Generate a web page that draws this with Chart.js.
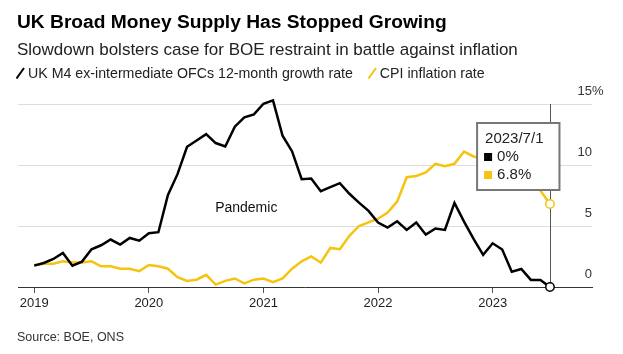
<!DOCTYPE html>
<html>
<head>
<meta charset="utf-8">
<script src="https://cdn.jsdelivr.net/npm/chart.js@4"></script>
<style>
  body { margin: 0; background: #fff; font-family: "Liberation Sans", Arial, sans-serif; }
  #wrap { position: relative; width: 623px; height: 354px; overflow: hidden; }
  #chart { position: absolute; left: 0; top: 0; }
  .title { position: absolute; left: 17px; top: 12px; font-size: 19.2px; line-height: 20px; font-weight: bold; color: #000; white-space: nowrap; }
  .subtitle { position: absolute; left: 17px; top: 41px; font-size: 17px; line-height: 17px; color: #222; white-space: nowrap; }
  .legend { position: absolute; left: 16px; top: 66px; font-size: 14.2px; line-height: 14px; color: #222; white-space: nowrap; }
  .legend svg { vertical-align: -1px; margin-right: 3px; }
  .legend .item2 { margin-left: 11px; }
  .source { position: absolute; left: 17px; top: 331px; font-size: 12.5px; line-height: 12px; color: #333; }
</style>
</head>
<body>
<div id="wrap">
  <canvas id="chart" width="623" height="354"></canvas>
  <div class="title">UK Broad Money Supply Has Stopped Growing</div>
  <div class="subtitle">Slowdown bolsters case for BOE restraint in battle against inflation</div>
  <div class="legend">
    <span><svg width="9" height="12"><line x1="0.5" y1="11.5" x2="8" y2="1" stroke="#000" stroke-width="2"/></svg>UK M4 ex-intermediate OFCs 12-month growth rate</span>
    <span class="item2"><svg width="9" height="12"><line x1="0.5" y1="11.5" x2="8" y2="1" stroke="#f6c30f" stroke-width="2"/></svg>CPI inflation rate</span>
  </div>
  <div class="source">Source: BOE, ONS</div>
</div>
<script>
// monthly, Jan 2019 .. Jul 2023
const firstYear = 2019;
const m4Growth = [
  1.75, 1.97, 2.3, 2.79, 1.75, 2.08, 3.09, 3.42, 3.89, 3.48, 4.02, 3.8,
  4.4, 4.49, 7.55, 9.25, 11.49, 12.01, 12.53, 11.8, 11.52, 13.14, 13.9, 14.15,
  15.02, 15.3, 12.4, 11.11, 8.84, 8.89, 7.85, 8.18, 8.51, 7.64, 6.92, 6.24,
  5.28, 4.87, 5.39, 4.68, 5.28, 4.29, 4.79, 4.68, 6.9, 5.36, 3.94, 2.63,
  3.58, 3.07, 1.26, 1.48, 0.58, 0.58, 0
];
const cpi = [
  1.8, 1.9, 1.9, 2.1, 2.0, 2.0, 2.1, 1.7, 1.7, 1.5, 1.5, 1.3,
  1.8, 1.7, 1.5, 0.8, 0.5, 0.6, 1.0, 0.2, 0.5, 0.7, 0.3, 0.6,
  0.7, 0.4, 0.7, 1.5, 2.1, 2.5, 2.0, 3.2, 3.1, 4.2, 5.0, 5.3,
  5.6, 6.1, 7.0, 9.0, 9.1, 9.4, 10.1, 9.9, 10.1, 11.1, 10.7, 10.5,
  10.1, 10.4, 10.1, 8.7, 8.7, 7.9, 6.8
];
const yearLabels = ['2019', '2020', '2021', '2022', '2023'];
const yTicks = [0, 5, 10, 15];

const blackColor = '#000000';
const yellowColor = '#f6c30f';

// category labels like 2023/7/1
const monthLabels = [];
for (let i = 0; i < m4Growth.length; i++) {
  monthLabels.push((firstYear + Math.floor(i / 12)) + '/' + (i % 12 + 1) + '/1');
}

Chart.defaults.font.family = '"Liberation Sans", Arial, sans-serif';

Chart.Tooltip.positioners.leftOfLine = function(items) {
  if (!items.length) return false;
  const el = items[0].element;
  return { x: el.x + 9.5, y: this.chart.chartArea.top + 19, xAlign: 'right', yAlign: 'top' };
};

// vertical hover line
const hoverLine = {
  id: 'hoverLine',
  beforeDatasetsDraw(chart) {
    const act = chart.getActiveElements();
    if (!act.length) return;
    const x = act[0].element.x;
    const ctx = chart.ctx;
    ctx.save();
    ctx.strokeStyle = '#555';
    ctx.lineWidth = 1;
    ctx.beginPath();
    ctx.moveTo(Math.round(x) + 0.5, chart.chartArea.top);
    ctx.lineTo(Math.round(x) + 0.5, chart.chartArea.bottom);
    ctx.stroke();
    ctx.restore();
  }
};

// "Pandemic" note + the % sign hanging after the top y label
const pandemicNote = { month: 22.2, value: 6.5, text: 'Pandemic' };
const notePlugin = {
  id: 'notePlugin',
  afterDatasetsDraw(chart) {
    const ctx = chart.ctx;
    const x = chart.scales.x.getPixelForValue(pandemicNote.month);
    const y = chart.scales.y.getPixelForValue(pandemicNote.value);
    ctx.save();
    ctx.font = '14px "Liberation Sans", Arial, sans-serif';
    ctx.fillStyle = '#111';
    ctx.textAlign = 'center';
    ctx.textBaseline = 'middle';
    ctx.fillText(pandemicNote.text, x, y);

    const ys = chart.scales.y;
    const top = yTicks[yTicks.length - 1];
    ctx.font = '13px "Liberation Sans", Arial, sans-serif';
    ctx.fillStyle = '#333';
    ctx.textAlign = 'left';
    ctx.fillText('%', chart.chartArea.right, ys.getPixelForValue(top) - 13);
    ctx.restore();
  }
};

const ctx = document.getElementById('chart').getContext('2d');
const chart = new Chart(ctx, {
  type: 'line',
  data: {
    datasets: [{
      label: 'UK M4 ex-intermediate OFCs 12-month growth rate',
      data: m4Growth.map((v, i) => ({ x: i, y: v })),
      borderColor: blackColor,
      backgroundColor: blackColor,
      borderWidth: 2.5,
      pointRadius: 0,
      pointHoverRadius: 4.2,
      pointHoverBorderWidth: 1.5,
      pointHoverBackgroundColor: '#fff',
      pointHoverBorderColor: blackColor,
      tension: 0,
      clip: false
    }, {
      label: 'CPI inflation rate',
      data: cpi.map((v, i) => ({ x: i, y: v })),
      borderColor: yellowColor,
      backgroundColor: yellowColor,
      borderWidth: 2.5,
      pointRadius: 0,
      pointHoverRadius: 4.2,
      pointHoverBorderWidth: 1.5,
      pointHoverBackgroundColor: '#fff',
      pointHoverBorderColor: yellowColor,
      tension: 0,
      clip: false
    }]
  },
  options: {
    responsive: false,
    animation: false,
    events: [],
    layout: { padding: { left: 18, right: 31, top: 104, bottom: 0 } },
    plugins: {
      legend: { display: false },
      tooltip: {
        enabled: true,
        position: 'leftOfLine',
        mode: 'index',
        intersect: false,
        caretSize: 0,
        caretPadding: 0,
        cornerRadius: 0,
        backgroundColor: '#fff',
        borderColor: '#777',
        borderWidth: 2,
        titleColor: '#222',
        bodyColor: '#222',
        titleFont: { size: 15, weight: 'normal' },
        bodyFont: { size: 15 },
        titleMarginBottom: 0,
        bodySpacing: 0,
        padding: { left: 8, right: 16, top: 7, bottom: 6 },
        boxWidth: 6,
        boxHeight: 6,
        boxPadding: 4,
        callbacks: {
          title: items => monthLabels[items[0].dataIndex],
          label: item => item.parsed.y + '%',
          labelColor: item => ({ borderColor: item.dataset.borderColor, backgroundColor: item.dataset.borderColor, borderWidth: 2 })
        }
      }
    },
    scales: {
      x: {
        type: 'linear',
        min: -1.7,
        max: 58.4,
        afterBuildTicks: s => { s.ticks = yearLabels.map((y, i) => ({ value: i * 12 })); },
        afterFit: s => { s.height = 67; },
        grid: { drawOnChartArea: false, drawTicks: true, tickLength: 6, tickColor: '#555' },
        border: { color: '#333', width: 1 },
        ticks: {
          padding: 3,
          maxRotation: 0,
          autoSkip: false,
          color: '#222',
          font: { size: 13 },
          callback: (v) => yearLabels[Math.round(v / 12)]
        }
      },
      y: {
        position: 'right',
        min: 0,
        max: 15,
        afterBuildTicks: s => { s.ticks = yTicks.map(v => ({ value: v })); },
        afterFit: s => { s.width = 0; },
        grid: {
          drawTicks: false,
          color: c => c.tick && c.tick.value === 0 ? 'rgba(0,0,0,0)' : '#dddddd'
        },
        border: { display: false },
        ticks: {
          mirror: true,
          padding: 0,
          labelOffset: -13,
          color: '#333',
          font: { size: 13 },
          callback: v => String(v)
        }
      }
    }
  },
  plugins: [hoverLine, notePlugin]
});

const last = m4Growth.length - 1;
const active = [{ datasetIndex: 0, index: last }, { datasetIndex: 1, index: last }];
chart.setActiveElements(active);
chart.tooltip.setActiveElements(active, { x: 0, y: 0 });
chart.update();
</script>
</body>
</html>
